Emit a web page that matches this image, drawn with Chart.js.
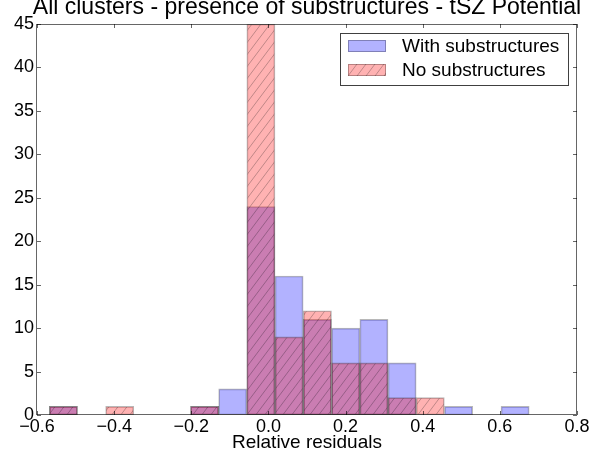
<!DOCTYPE html>
<html>
<head>
<meta charset="utf-8">
<script src="https://cdn.jsdelivr.net/npm/chart.js@4/dist/chart.umd.min.js"></script>
<style>
  html, body { margin: 0; padding: 0; background: #fff; }
  #wrap { width: 614px; height: 454px; }
</style>
</head>
<body>
<div id="wrap"><canvas id="c" width="614" height="454"></canvas></div>
<script>
// Histogram bin edges (relative residuals)
const binEdges = [-0.568, -0.495, -0.422, -0.349, -0.276, -0.202, -0.129, -0.056,
                  0.017, 0.090, 0.164, 0.237, 0.310, 0.383, 0.456, 0.530, 0.603, 0.676];
// Counts per bin
const withSubstructures = [1, 0, 0, 0, 0, 1, 3, 24, 16, 11, 10, 11, 6, 0, 1, 0, 1];
const noSubstructures   = [1, 0, 1, 0, 0, 1, 0, 45, 9, 12, 6, 6, 2, 2, 0, 0, 0];
// Axis ticks
const xTicks = [-0.6, -0.4, -0.2, 0.0, 0.2, 0.4, 0.6, 0.8];
const yTicks = [0, 5, 10, 15, 20, 25, 30, 35, 40, 45];

const titleText = 'All clusters - presence of substructures - tSZ Potential';
const xLabel = 'Relative residuals';
const seriesNames = ['With substructures', 'No substructures'];

const FONT = '"Liberation Sans", Arial, Helvetica, sans-serif';
Chart.defaults.font.family = FONT;
Chart.defaults.color = '#000';

const blueFill = 'rgba(0,0,255,0.3)';
const redFill = 'rgba(255,0,0,0.3)';
const edgeColor = 'rgba(0,0,0,0.28)';

// '/' hatch pattern on the translucent red fill
function makeHatch() {
  const w = 9, h = 12;
  const t = document.createElement('canvas');
  t.width = w; t.height = h;
  const g = t.getContext('2d');
  g.fillStyle = redFill;
  g.fillRect(0, 0, w, h);
  g.strokeStyle = 'rgba(0,0,0,0.25)';
  g.lineWidth = 1;
  g.beginPath();
  for (const c of [0, w, 2 * w]) {
    g.moveTo(c - w, h);
    g.lineTo(c, 0);
  }
  g.stroke();
  return g.createPattern(t, 'repeat');
}
const hatch = makeHatch();

function toPoints(counts) {
  return counts.map((v, i) => ({
    x: (binEdges[i] + binEdges[i + 1]) / 2,
    y: v === 0 ? null : v
  }));
}

const fmt = v => {
  if (Math.abs(v) < 1e-9) return '0.0';
  return v.toFixed(1).replace('-', '\u2212');
};

// Frame, inward tick marks, title and legend box
const decor = {
  id: 'decor',
  afterDatasetsDraw(chart) {
    const ctx = chart.ctx;
    const a = chart.chartArea;
    const xs = chart.scales.x, ys = chart.scales.y;
    ctx.save();
    ctx.strokeStyle = 'rgba(0,0,0,0.6)';
    ctx.lineWidth = 1;
    ctx.beginPath();
    const tl = 4;
    xTicks.forEach(v => {
      const px = Math.round(xs.getPixelForValue(v)) + 0.5;
      ctx.moveTo(px, a.bottom); ctx.lineTo(px, a.bottom - tl);
      ctx.moveTo(px, a.top); ctx.lineTo(px, a.top + tl);
    });
    yTicks.forEach(v => {
      const py = Math.round(ys.getPixelForValue(v)) + 0.5;
      ctx.moveTo(a.left, py); ctx.lineTo(a.left + tl, py);
      ctx.moveTo(a.right, py); ctx.lineTo(a.right - tl, py);
    });
    ctx.stroke();
    ctx.strokeRect(Math.round(a.left) - 0.5, Math.round(a.top) + 0.5,
                   Math.round(a.right - a.left), Math.round(a.bottom - a.top) - 1);
    ctx.restore();
  },
  afterDraw(chart) {
    const ctx = chart.ctx;
    const a = chart.chartArea;
    ctx.save();
    // title
    ctx.fillStyle = '#000';
    ctx.font = '23px ' + FONT;
    ctx.textAlign = 'center';
    ctx.textBaseline = 'alphabetic';
    ctx.fillText(titleText, (a.left + a.right) / 2, 14);
    // legend
    const bx = a.right - 237, by = a.top + 9, bw = 228, bh = 52;
    ctx.fillStyle = '#fff';
    ctx.fillRect(bx, by, bw, bh);
    ctx.strokeStyle = 'rgba(0,0,0,0.75)';
    ctx.lineWidth = 1;
    ctx.strokeRect(Math.round(bx) + 0.5, Math.round(by) + 0.5, bw, bh);
    const fills = [blueFill, hatch];
    ctx.font = '19px ' + FONT;
    ctx.textAlign = 'left';
    ctx.textBaseline = 'middle';
    seriesNames.forEach((name, i) => {
      const cy = by + 13 + i * 24;
      ctx.fillStyle = fills[i];
      ctx.fillRect(bx + 8, cy - 6, 38, 12);
      ctx.strokeStyle = edgeColor;
      ctx.strokeRect(bx + 8.5, cy - 5.5, 37, 11);
      ctx.fillStyle = '#000';
      ctx.fillText(name, bx + 62, cy + 1);
    });
    ctx.restore();
  }
};

new Chart(document.getElementById('c'), {
  type: 'bar',
  data: {
    datasets: [
      {
        label: seriesNames[1],
        data: toPoints(noSubstructures),
        backgroundColor: hatch,
        borderColor: edgeColor,
        borderWidth: 1,
        borderSkipped: false,
        grouped: false,
        barPercentage: 1.0,
        categoryPercentage: 1.0
      },
      {
        label: seriesNames[0],
        data: toPoints(withSubstructures),
        backgroundColor: blueFill,
        borderColor: edgeColor,
        borderWidth: 1,
        borderSkipped: false,
        grouped: false,
        barPercentage: 1.0,
        categoryPercentage: 1.0
      }
    ]
  },
  options: {
    responsive: false,
    animation: false,
    events: [],
    layout: { padding: { top: 24, right: 37, left: 0, bottom: 0 } },
    plugins: { legend: { display: false }, title: { display: false }, tooltip: { enabled: false } },
    scales: {
      x: {
        type: 'linear',
        min: -0.6, max: 0.8,
        offset: false,
        grid: { display: false, drawTicks: false },
        border: { display: false },
        afterBuildTicks: s => { s.ticks = xTicks.map(v => ({ value: v })); },
        afterFit: s => { s.height = 39; },
        ticks: { font: { size: 18 }, padding: 1, maxRotation: 0, autoSkip: false, callback: v => fmt(v) },
        title: { display: true, text: xLabel, font: { size: 19 }, padding: { top: 0, bottom: 0 } }
      },
      y: {
        min: 0, max: 45,
        grid: { display: false, drawTicks: false },
        border: { display: false },
        afterBuildTicks: s => { s.ticks = yTicks.map(v => ({ value: v })); },
        afterFit: s => { s.width = 37; },
        ticks: { font: { size: 18 }, padding: 3, autoSkip: false }
      }
    }
  },
  plugins: [decor]
});
</script>
</body>
</html>
